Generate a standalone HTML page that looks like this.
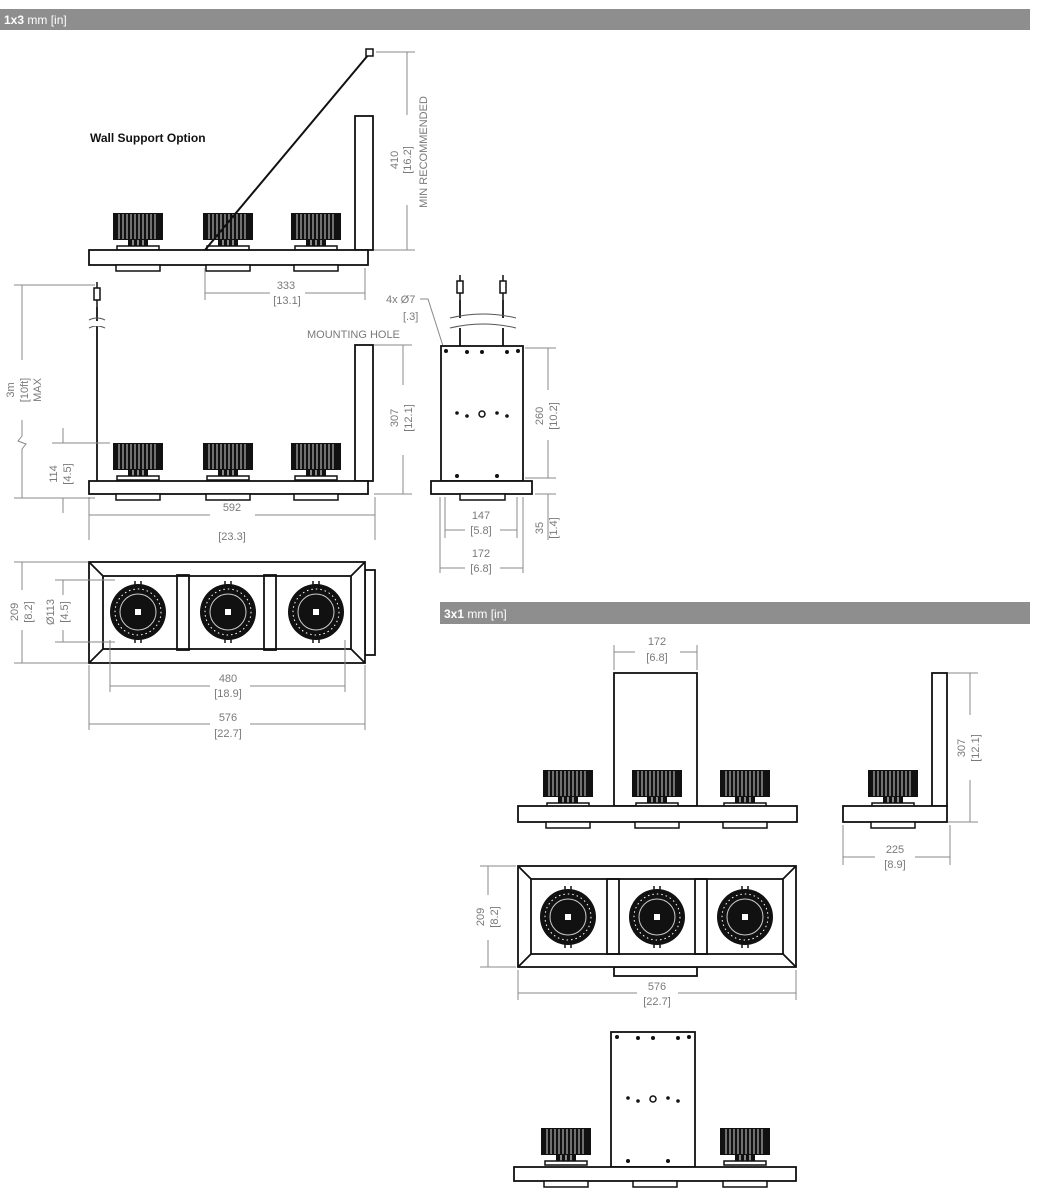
<!DOCTYPE html>
<html><head><meta charset="utf-8"><style>
html,body{margin:0;padding:0;background:#fff;}
svg{display:block;font-family:"Liberation Sans",sans-serif;}
.d{fill:#7a7a7a;font-size:11px;}
.dl{stroke:#888;stroke-width:1;fill:none;}
.k{stroke:#111;stroke-width:1.8;fill:#fff;}
.kn{stroke:#111;stroke-width:1.8;fill:none;}
</style></head><body>
<svg width="1038" height="1200" viewBox="0 0 1038 1200" xmlns="http://www.w3.org/2000/svg">
<defs>
 <g id="hs">
  <rect x="-25" y="0" width="50" height="27" fill="#111"/>
  <g stroke="#fff" stroke-width="0.8">
   <line x1="-19" y1="1" x2="-19" y2="26"/><line x1="-15" y1="1" x2="-15" y2="26"/>
   <line x1="-11" y1="1" x2="-11" y2="26"/><line x1="-7" y1="1" x2="-7" y2="26"/>
   <line x1="-3" y1="1" x2="-3" y2="26"/><line x1="1" y1="1" x2="1" y2="26"/>
   <line x1="5" y1="1" x2="5" y2="26"/><line x1="9" y1="1" x2="9" y2="26"/>
   <line x1="13" y1="1" x2="13" y2="26"/><line x1="17" y1="1" x2="17" y2="26"/>
  </g>
  <rect x="-10" y="27" width="20" height="6" fill="#111"/>
  <line x1="-5" y1="27" x2="-5" y2="33" stroke="#fff"/><line x1="0" y1="27" x2="0" y2="33" stroke="#fff"/><line x1="5" y1="27" x2="5" y2="33" stroke="#fff"/>
  <rect x="-21" y="33" width="42" height="4" fill="#fff" stroke="#111" stroke-width="1.5"/>
 </g>
 <g id="bot"><rect x="-22" y="0" width="44" height="6" fill="#fff" stroke="#111" stroke-width="1.5"/></g>
 <g id="lens">
  <line x1="-3" y1="-31" x2="-3" y2="31" stroke="#111" stroke-width="1.5"/><line x1="3" y1="-31" x2="3" y2="31" stroke="#111" stroke-width="1.5"/>
  <circle r="28" fill="#111"/>
  <circle r="23" fill="none" stroke="#fff" stroke-width="1" stroke-dasharray="1.5 3"/>
  <circle r="18" fill="none" stroke="#ccc" stroke-width="1"/>
  <rect x="-3" y="-3" width="6" height="6" fill="#fff"/>
 </g>
 <g id="plug" stroke="#111" stroke-width="1.5" fill="#fff">
  <line x1="0" y1="0" x2="0" y2="8"/><rect x="-3" y="6" width="6" height="12"/><line x1="0" y1="18" x2="0" y2="25"/>
 </g>
</defs>

<rect x="0" y="9" width="1030" height="21" fill="#8e8e8e"/>
<text x="4" y="24" fill="#fff" font-size="12"><tspan font-weight="bold">1x3</tspan> mm [in]</text>
<rect x="440" y="602" width="590" height="22" fill="#8e8e8e"/>
<text x="444" y="618" fill="#fff" font-size="12"><tspan font-weight="bold">3x1</tspan> mm [in]</text>

<text x="90" y="142" font-size="12" font-weight="bold" fill="#111">Wall Support Option</text>
<rect class="k" x="355" y="116" width="18" height="134"/>
<use href="#hs" x="138" y="213"/><use href="#hs" x="228" y="213"/><use href="#hs" x="316" y="213"/>
<rect class="k" x="89" y="250" width="279" height="15"/>
<use href="#bot" x="138" y="265"/><use href="#bot" x="228" y="265"/><use href="#bot" x="316" y="265"/>
<line x1="205" y1="250" x2="369" y2="54" stroke="#111" stroke-width="2"/>
<rect x="366" y="49" width="7" height="7" fill="#fff" stroke="#111" stroke-width="1.5"/>
<path class="dl" d="M376 52 H415 M374 250 H415 M407 52 V115 M407 205 V250"/>
<text class="d" transform="translate(398,160) rotate(-90)" text-anchor="middle">410</text>
<text class="d" transform="translate(411,160) rotate(-90)" text-anchor="middle">[16.2]</text>
<text class="d" transform="translate(427,152) rotate(-90)" text-anchor="middle">MIN RECOMMENDED</text>
<path class="dl" d="M205 268 V300 M365 268 V300 M205 293 H270 M305 293 H365"/>
<text class="d" x="286" y="289" text-anchor="middle">333</text>
<text class="d" x="287" y="304" text-anchor="middle">[13.1]</text>

<use href="#plug" x="97" y="282"/>
<line class="kn" x1="97" y1="307" x2="97" y2="481"/>
<path d="M89 320 q8 -4 16 0 M89 328 q8 -4 16 0" stroke="#555" fill="none"/>
<rect x="90" y="321" width="14" height="5" fill="#fff"/>
<rect class="k" x="355" y="345" width="18" height="136"/>
<use href="#hs" x="138" y="443"/><use href="#hs" x="228" y="443"/><use href="#hs" x="316" y="443"/>
<rect class="k" x="89" y="481" width="279" height="13"/>
<use href="#bot" x="138" y="494"/><use href="#bot" x="228" y="494"/><use href="#bot" x="316" y="494"/>
<path class="dl" d="M14 285 H95 M14 498 H95 M22 285 V360 M22 420 V436 L18 441 L26 444 L22 449 V498"/>
<text class="d" transform="translate(14,390) rotate(-90)" text-anchor="middle">3m</text>
<text class="d" transform="translate(28,390) rotate(-90)" text-anchor="middle">[10ft]</text>
<text class="d" transform="translate(41,390) rotate(-90)" text-anchor="middle">MAX</text>
<path class="dl" d="M52 443 H110 M63 428 V443 M63 498 V513"/>
<text class="d" transform="translate(57,474) rotate(-90)" text-anchor="middle">114</text>
<text class="d" transform="translate(71,474) rotate(-90)" text-anchor="middle">[4.5]</text>
<path class="dl" d="M374 345 H412 M374 494 H412 M403 345 V385 M403 455 V494"/>
<text class="d" transform="translate(398,418) rotate(-90)" text-anchor="middle">307</text>
<text class="d" transform="translate(412,418) rotate(-90)" text-anchor="middle">[12.1]</text>
<path class="dl" d="M89 497 V540 M375 497 V540 M89 515 H210 M255 515 H375"/>
<text class="d" x="232" y="511" text-anchor="middle">592</text>
<text class="d" x="232" y="540" text-anchor="middle">[23.3]</text>
<text class="d" x="386" y="303">4x Ø7</text>
<text class="d" x="403" y="320">[.3]</text>
<text class="d" x="307" y="338">MOUNTING HOLE</text>
<path class="dl" d="M420 299 H428 L443 346"/>

<use href="#plug" x="460" y="275"/><use href="#plug" x="503" y="275"/>
<line class="kn" x1="460" y1="300" x2="460" y2="346"/><line class="kn" x1="503" y1="300" x2="503" y2="346"/>
<rect x="450" y="318" width="66" height="10" fill="#fff"/>
<path d="M450 318 q33 -8 66 0 M450 328 q33 -8 66 0" stroke="#555" fill="none"/>
<rect class="k" x="441" y="346" width="82" height="135"/>
<g fill="#111"><circle cx="446" cy="351" r="2"/><circle cx="467" cy="352" r="2"/><circle cx="482" cy="352" r="2"/><circle cx="507" cy="352" r="2"/><circle cx="518" cy="351" r="2"/>
<circle cx="457" cy="413" r="1.8"/><circle cx="467" cy="416" r="1.8"/><circle cx="497" cy="413" r="1.8"/><circle cx="507" cy="416" r="1.8"/>
<circle cx="457" cy="476" r="2"/><circle cx="497" cy="476" r="2"/></g>
<circle cx="482" cy="414" r="3" fill="none" stroke="#111" stroke-width="1.5"/>
<rect class="k" x="431" y="481" width="101" height="13"/>
<rect x="460" y="494" width="45" height="6" fill="#fff" stroke="#111" stroke-width="1.5"/>
<path class="dl" d="M525 348 H556 M525 478 H556 M548 348 V390 M548 440 V478 M535 494 H556 M548 494 V540"/>
<text class="d" transform="translate(543,416) rotate(-90)" text-anchor="middle">260</text>
<text class="d" transform="translate(557,416) rotate(-90)" text-anchor="middle">[10.2]</text>
<text class="d" transform="translate(543,528) rotate(-90)" text-anchor="middle">35</text>
<text class="d" transform="translate(557,528) rotate(-90)" text-anchor="middle">[1.4]</text>
<path class="dl" d="M445 497 V538 M517 497 V538 M445 530 H465 M500 530 H517 M440 497 V573 M523 497 V573 M440 568 H465 M500 568 H523"/>
<text class="d" x="481" y="519" text-anchor="middle">147</text>
<text class="d" x="481" y="534" text-anchor="middle">[5.8]</text>
<text class="d" x="481" y="557" text-anchor="middle">172</text>
<text class="d" x="481" y="572" text-anchor="middle">[6.8]</text>

<rect class="k" x="365" y="570" width="10" height="85"/>
<rect class="k" x="89" y="562" width="276" height="101"/>
<rect class="kn" x="103" y="576" width="248" height="73" stroke-width="1.5"/>
<path class="kn" stroke-width="1.5" d="M89 562 L103 576 M365 562 L351 576 M89 663 L103 649 M365 663 L351 649"/>
<rect class="kn" x="177" y="575" width="12" height="75" stroke-width="1.5"/>
<rect class="kn" x="264" y="575" width="12" height="75" stroke-width="1.5"/>
<use href="#lens" x="138" y="612"/><use href="#lens" x="228" y="612"/><use href="#lens" x="316" y="612"/>
<path class="dl" d="M14 562 H88 M14 663 H88 M22 562 V590 M22 630 V663 M55 580 H115 M55 642 H115 M63 580 V595 M63 630 V642"/>
<text class="d" transform="translate(18,612) rotate(-90)" text-anchor="middle">209</text>
<text class="d" transform="translate(32,612) rotate(-90)" text-anchor="middle">[8.2]</text>
<text class="d" transform="translate(54,612) rotate(-90)" text-anchor="middle">Ø113</text>
<text class="d" transform="translate(68,612) rotate(-90)" text-anchor="middle">[4.5]</text>
<path class="dl" d="M110 640 V692 M345 640 V692 M110 686 H210 M250 686 H345 M89 665 V730 M365 665 V730 M89 724 H210 M250 724 H365"/>
<text class="d" x="228" y="682" text-anchor="middle">480</text>
<text class="d" x="228" y="697" text-anchor="middle">[18.9]</text>
<text class="d" x="228" y="721" text-anchor="middle">576</text>
<text class="d" x="228" y="737" text-anchor="middle">[22.7]</text>

<rect class="k" x="614" y="673" width="83" height="133"/>
<use href="#hs" x="568" y="770"/><use href="#hs" x="657" y="770"/><use href="#hs" x="745" y="770"/>
<rect class="k" x="518" y="806" width="279" height="16"/>
<use href="#bot" x="568" y="822"/><use href="#bot" x="657" y="822"/><use href="#bot" x="745" y="822"/>
<path class="dl" d="M614 645 V670 M697 645 V670 M614 652 H635 M680 652 H697"/>
<text class="d" x="657" y="645" text-anchor="middle">172</text>
<text class="d" x="657" y="661" text-anchor="middle">[6.8]</text>
<rect class="k" x="932" y="673" width="15" height="133"/>
<use href="#hs" x="893" y="770"/>
<rect class="k" x="843" y="806" width="104" height="16"/>
<use href="#bot" x="893" y="822"/>
<path class="dl" d="M948 673 H978 M948 822 H978 M970 673 V715 M970 780 V822 M843 825 V865 M950 825 V865 M843 857 H875 M915 857 H950"/>
<text class="d" transform="translate(965,748) rotate(-90)" text-anchor="middle">307</text>
<text class="d" transform="translate(979,748) rotate(-90)" text-anchor="middle">[12.1]</text>
<text class="d" x="895" y="853" text-anchor="middle">225</text>
<text class="d" x="895" y="868" text-anchor="middle">[8.9]</text>

<rect class="k" x="614" y="967" width="83" height="9"/>
<rect class="k" x="518" y="866" width="278" height="101"/>
<rect class="kn" x="531" y="879" width="252" height="75" stroke-width="1.5"/>
<path class="kn" stroke-width="1.5" d="M518 866 L531 879 M796 866 L783 879 M518 967 L531 954 M796 967 L783 954"/>
<rect class="kn" x="607" y="879" width="12" height="75" stroke-width="1.5"/>
<rect class="kn" x="695" y="879" width="12" height="75" stroke-width="1.5"/>
<use href="#lens" x="568" y="917"/><use href="#lens" x="657" y="917"/><use href="#lens" x="745" y="917"/>
<path class="dl" d="M480 866 H516 M480 967 H516 M488 866 V895 M488 940 V967 M518 970 V1000 M796 970 V1000 M518 993 H637 M678 993 H796"/>
<text class="d" transform="translate(484,917) rotate(-90)" text-anchor="middle">209</text>
<text class="d" transform="translate(498,917) rotate(-90)" text-anchor="middle">[8.2]</text>
<text class="d" x="657" y="990" text-anchor="middle">576</text>
<text class="d" x="657" y="1005" text-anchor="middle">[22.7]</text>

<rect class="k" x="611" y="1032" width="84" height="135"/>
<g fill="#111"><circle cx="617" cy="1037" r="2"/><circle cx="638" cy="1038" r="2"/><circle cx="653" cy="1038" r="2"/><circle cx="678" cy="1038" r="2"/><circle cx="689" cy="1037" r="2"/>
<circle cx="628" cy="1098" r="1.8"/><circle cx="638" cy="1101" r="1.8"/><circle cx="668" cy="1098" r="1.8"/><circle cx="678" cy="1101" r="1.8"/>
<circle cx="628" cy="1161" r="2"/><circle cx="668" cy="1161" r="2"/></g>
<circle cx="653" cy="1099" r="3" fill="none" stroke="#111" stroke-width="1.5"/>
<use href="#hs" x="566" y="1128"/><use href="#hs" x="745" y="1128"/>
<rect class="k" x="514" y="1167" width="282" height="14"/>
<use href="#bot" x="566" y="1181"/><use href="#bot" x="655" y="1181"/><use href="#bot" x="745" y="1181"/>
</svg>
</body></html>
